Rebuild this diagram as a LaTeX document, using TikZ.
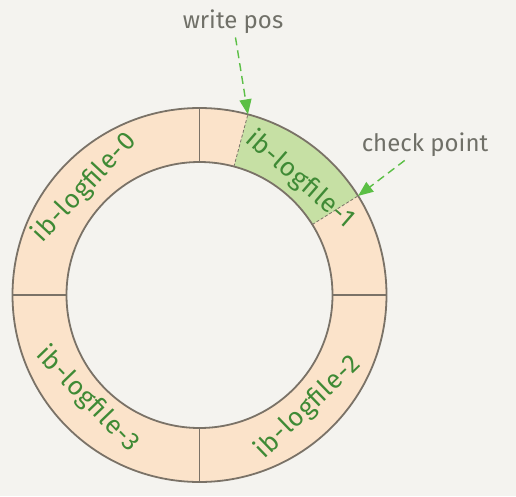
\documentclass[tikz,border=0pt]{standalone}
\usepackage{fontspec}
\setmainfont{Fira Sans}
\newfontfamily\ringfont{Fira Sans}[LetterSpace=3]
\usepackage{tikz}
\usepackage{xcolor}
\usetikzlibrary{arrows.meta}
\definecolor{paper}{HTML}{F4F3EF}
\definecolor{peach}{HTML}{FBE3CA}
\definecolor{leaf}{HTML}{C6E0A4}
\definecolor{rim}{HTML}{7A7267}
\definecolor{ink-green}{HTML}{3F8A35}
\definecolor{ink-gray}{HTML}{707068}
\definecolor{pointer}{HTML}{5BBF45}
\tikzset{
    ring-line/.style = {draw=rim, line width=1.8pt},
    split-line/.style = {draw=rim, line width=1.3pt},
    move-line/.style = {draw=rim, line width=0.8pt, dash pattern=on 3pt off 2pt},
    file-label/.style = {text=ink-green, font=\ringfont\fontsize{26}{28}\selectfont},
    pos-label/.style = {text=ink-gray, font=\fontsize{24}{26}\selectfont},
    pointer-arrow/.style = {draw=pointer, line width=1.4pt, dash pattern=on 8pt off 5pt, -{Triangle[length=15pt, width=12pt]}},
}

\begin{document}
\begin{tikzpicture}[x=1pt, y=1pt]
\fill[paper] (-199.5,-201) rectangle (316.5,295);
\useasboundingbox (-199.5,-201) rectangle (316.5,295);
% ring and the part between check point and write pos
\fill[peach, even odd rule] (0,0) circle (187) (0,0) circle (133);
\fill[leaf] (75:133) arc[start angle=75, end angle=32, radius=133] -- (32:187)
    arc[start angle=32, end angle=75, radius=187] -- cycle;
\draw[ring-line] (0,0) circle (187);
\draw[ring-line] (0,0) circle (133);
\foreach \a in {0,90,180,270}
    \draw[split-line] (\a:133) -- (\a:187);
\draw[move-line] (75:133) -- (75:187);
\draw[move-line] (32:133) -- (32:187);
\coordinate (write-pos) at (75:187);
\coordinate (check-point) at (32:187);
% file names
\node[file-label, rotate=47] (file-0) at (137:157) {ib-logfile-0};
\node[file-label, rotate=-41] (file-1) at (49:153) {ib-logfile-1};
\node[file-label, rotate=44] (file-2) at (-46:156) {ib-logfile-2};
\node[file-label, rotate=-46] (file-3) at (223:153) {ib-logfile-3};
% pointers
\node[pos-label] (write-label) at (33.5,273) {write pos};
\node[pos-label] (check-label) at (225.5,150) {check point};
\draw[pointer-arrow] (write-label) -- (write-pos);
\draw[pointer-arrow] (check-label) -- (check-point);
\end{tikzpicture}
\end{document}
